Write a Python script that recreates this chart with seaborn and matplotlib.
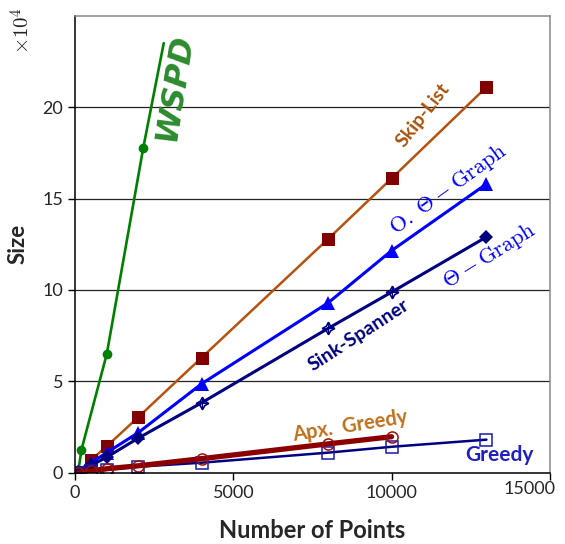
import matplotlib
matplotlib.use("Agg")
import matplotlib.pyplot as plt
from matplotlib.ticker import FuncFormatter, FixedLocator
import matplotlib.transforms as mtransforms
import numpy as np
import pandas as pd
import seaborn as sns

# Graph sizes (number of edges) against number of input points
n_points = [100, 500, 1000, 2000, 4000, 8000, 10000, 13000]
skip_list = [500, 7000, 14500, 30500, 63000, 128000, 161000, 211000]
o_theta_graph = [300, 5500, 11000, 22000, 48700, 93000, 121500, 158000]
theta_graph = [200, 4000, 8500, 19000, 38300, 79000, 98800, 129000]
apx_greedy = [100, 1000, 2200, 3800, 7700, 15800, 19700]
greedy = [100, 800, 1600, 3300, 5500, 11000, 14200, 18100]

wspd_points = [100, 200, 1000, 2150, 2800]
wspd = [1000, 12600, 65000, 177500, 235000]

sink_points = [4000, 8000, 10000]
sink_spanner = [38300, 79000, 98800]

sns.set_style("white")
plt.rcParams["font.family"] = ["Lato", "DejaVu Sans"]
plt.rcParams["mathtext.fontset"] = "cm"

fig = plt.figure(figsize=(5.65, 5.44), dpi=100)
ax = fig.add_axes([0.133, 0.131, 0.840, 0.840])

def series(x, y):
    return pd.DataFrame({"n": x, "size": y})

common = dict(x="n", y="size", ax=ax, estimator=None, sort=False)

# WSPD: last vertex drawn without a marker
sns.lineplot(data=series(wspd_points, wspd), color="#008000", lw=1.9,
             marker="o", markersize=7, markeredgewidth=0,
             markevery=[0, 1, 2, 3], **common)

sns.lineplot(data=series(n_points, skip_list), color="#b5520e", lw=1.8,
             marker="s", markersize=8, markerfacecolor="#800000",
             markeredgecolor="#800000", **common)

sns.lineplot(data=series(n_points, o_theta_graph), color="#0000ff", lw=2.2,
             marker="^", markersize=10, markeredgewidth=0, **common)

sns.lineplot(data=series(n_points, theta_graph), color="#000080", lw=2.2,
             marker="D", markersize=7, markeredgewidth=0,
             markevery=[0, 1, 2, 3, 7], **common)

sns.lineplot(data=series(sink_points, sink_spanner), color="#000080", lw=0,
             marker=(4, 1, 0), markersize=9, markerfacecolor="none",
             markeredgecolor="#000080", markeredgewidth=1.2, **common)
sns.lineplot(data=series(sink_points, sink_spanner), color="#000080", lw=0,
             marker="+", markersize=7, markeredgecolor="#000080",
             markeredgewidth=0.8, **common)

sns.lineplot(data=series(n_points, greedy), color="#000080", lw=1.8,
             marker="s", markersize=8, markerfacecolor="none",
             markeredgecolor="#1a1aaa", markeredgewidth=1.1, **common)

sns.lineplot(data=series(n_points[:7], apx_greedy), color="#8b0000", lw=3.8,
             marker="o", markersize=8, markerfacecolor="none",
             markeredgecolor="#9b1010", markeredgewidth=1.1, **common)

ax.set_xlim(0, 15000)
ax.set_ylim(0, 250000)
ax.xaxis.set_major_locator(FixedLocator([0, 5000, 10000, 15000]))
ax.yaxis.set_major_locator(FixedLocator([0, 50000, 100000, 150000, 200000]))
ax.yaxis.set_major_formatter(FuncFormatter(lambda v, p: f"{v / 1e4:g}"))
ax.tick_params(axis="both", direction="out", length=5, width=1,
               labelsize=13, color="black", bottom=True, left=True)

# last x tick label sits pulled in from the right edge
last = ax.get_xticklabels()[-1]
last.set_transform(last.get_transform() +
                   mtransforms.ScaledTranslation(-0.2, 0.04, fig.dpi_scale_trans))

for yv in [50000, 100000, 150000, 200000]:
    ax.axhline(yv, color="#222222", lw=0.9, zorder=0)

for side in ["left", "bottom"]:
    ax.spines[side].set_color("black")
    ax.spines[side].set_linewidth(1.1)
for side in ["top", "right"]:
    ax.spines[side].set_color("#888888")
    ax.spines[side].set_linewidth(1.1)

ax.set_xlabel("Number of Points", fontsize=17, fontweight="bold", labelpad=13)
ax.set_ylabel("Size", fontsize=16, fontweight="bold", labelpad=10)
ax.text(-0.112, 1.02, r"$\times10^4$", transform=ax.transAxes, rotation=90,
        fontsize=15, color="#222222", ha="center", va="top")

# Curve labels
ax.text(3150, 211000, "WSPD", color="#2e8b2e", fontsize=23, fontweight="bold",
        fontstyle="italic", rotation=81, ha="center", va="center",
        family=["DejaVu Sans"])
ax.text(11000, 195500, "Skip-List", color="#a8540c", fontsize=14,
        fontweight="bold", rotation=52, ha="center", va="center")
ax.text(11800, 155300, r"$\mathrm{O.}\ \Theta-\mathrm{Graph}$", color="#0000ff",
        fontsize=16, rotation=36, ha="center", va="center")
ax.text(13080, 118500, r"$\Theta-\mathrm{Graph}$", color="#0000ff",
        fontsize=16, rotation=32, ha="center", va="center")
ax.text(8950, 75500, "Sink-Spanner", color="#000080", fontsize=14,
        fontweight="bold", rotation=33, ha="center", va="center")
ax.text(8700, 25500, "Apx.  Greedy", color="#c0701a", fontsize=14.5,
        fontweight="bold", rotation=9, ha="center", va="center")
ax.text(13400, 9500, "Greedy", color="#2020c0", fontsize=15,
        fontweight="bold", ha="center", va="center")

fig.savefig("out.png", dpi=100)
